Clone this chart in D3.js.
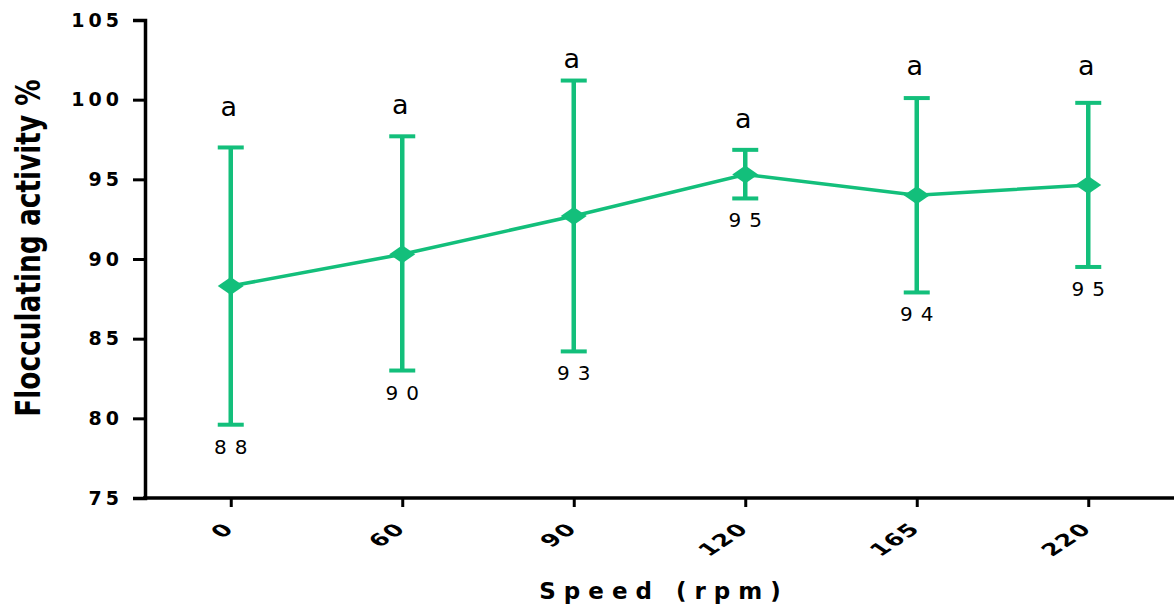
<!DOCTYPE html>
<html>
<head>
<meta charset="utf-8">
<script src="https://cdn.jsdelivr.net/npm/d3@7"></script>
<style>
  body { margin: 0; background: #fff; }
  svg text { font-family: "DejaVu Sans", Arial, sans-serif; }
</style>
</head>
<body>
<div id="chart"></div>
<script>
const speeds = ["0", "60", "90", "120", "165", "220"];
const meanValues = [88.3, 90.3, 92.7, 95.3, 94.0, 94.65];
const errUpper = [97.0, 97.7, 101.2, 96.85, 100.1, 99.8];
const errLower = [79.6, 83.0, 84.2, 93.8, 87.9, 89.5];
const meanLabels = ["88", "90", "93", "95", "94", "95"];
const groupLetters = ["a", "a", "a", "a", "a", "a"];
const letterLevel = [99.0, 99.1, 102.0, 98.2, 101.55, 101.55];
const yTicks = [75, 80, 85, 90, 95, 100, 105];

const width = 1174, height = 605;
const green = "#13bf7b";

const svg = d3.select("#chart").append("svg")
    .attr("width", width)
    .attr("height", height);

const x = d3.scalePoint().domain(speeds).range([145, 1174]).padding(0.5);
const y = d3.scaleLinear().domain([75, 105]).range([498, 20]);

// y axis
const yAxis = svg.append("g")
    .attr("transform", "translate(145,0)")
    .call(d3.axisLeft(y).tickValues(yTicks).tickSize(12).tickPadding(10));
yAxis.select(".domain").attr("stroke", "#000").attr("stroke-width", 3.5);
yAxis.selectAll(".tick line").attr("stroke", "#000").attr("stroke-width", 3);
yAxis.selectAll(".tick text")
    .attr("font-family", "DejaVu Sans")
    .attr("font-size", "19px")
    .attr("font-weight", "bold")
    .attr("letter-spacing", "4px")
    .attr("fill", "#000");

// x axis
const xAxis = svg.append("g")
    .attr("transform", "translate(0,498)")
    .call(d3.axisBottom(x).tickSize(9).tickSizeOuter(0));
xAxis.select(".domain").attr("stroke", "#000").attr("stroke-width", 3.5)
    .attr("d", "M143,0H1174");
xAxis.selectAll(".tick line").attr("stroke", "#000").attr("stroke-width", 3);
xAxis.selectAll(".tick text")
    .attr("font-family", "Liberation Sans")
    .attr("font-size", "17px")
    .attr("font-weight", "bold")
    .attr("letter-spacing", "1px")
    .attr("fill", "#000")
    .attr("text-anchor", "end")
    .attr("dy", null)
    .attr("y", 0)
    .attr("transform", "translate(4,32) scale(1.5,1) rotate(-45)");

// axis titles
svg.append("text")
    .attr("x", 664)
    .attr("y", 599)
    .attr("text-anchor", "middle")
    .attr("font-size", "23px")
    .attr("font-weight", "bold")
    .attr("letter-spacing", "8px")
    .text("Speed (rpm)");

svg.append("text")
    .attr("transform", "translate(40,248) rotate(-90) scale(0.8,1)")
    .attr("text-anchor", "middle")
    .attr("font-family", "Liberation Sans")
    .attr("font-size", "33px")
    .attr("font-weight", "bold")
    .text("Flocculating activity %");

const pts = speeds.map((s, i) => ({
    s, m: meanValues[i], hi: errUpper[i], lo: errLower[i],
    lab: meanLabels[i], g: groupLetters[i], gl: letterLevel[i]
}));

// error bars
const eb = svg.append("g").selectAll("g").data(pts).join("g");
eb.append("line")
    .attr("x1", d => x(d.s)).attr("x2", d => x(d.s))
    .attr("y1", d => y(d.hi)).attr("y2", d => y(d.lo))
    .attr("stroke", green).attr("stroke-width", 4.5);
eb.append("line")
    .attr("x1", d => x(d.s) - 13).attr("x2", d => x(d.s) + 13)
    .attr("y1", d => y(d.hi)).attr("y2", d => y(d.hi))
    .attr("stroke", green).attr("stroke-width", 4);
eb.append("line")
    .attr("x1", d => x(d.s) - 13).attr("x2", d => x(d.s) + 13)
    .attr("y1", d => y(d.lo)).attr("y2", d => y(d.lo))
    .attr("stroke", green).attr("stroke-width", 4);

// mean line
svg.append("path")
    .datum(pts)
    .attr("fill", "none")
    .attr("stroke", green)
    .attr("stroke-width", 3.5)
    .attr("d", d3.line().x(d => x(d.s)).y(d => y(d.m)));

// diamond markers
svg.append("g").selectAll("path").data(pts).join("path")
    .attr("transform", d => `translate(${x(d.s)},${y(d.m)})`)
    .attr("d", "M-13,0L0,-9L13,0L0,9Z")
    .attr("fill", green);

// value labels under error bars
svg.append("g").selectAll("text").data(pts).join("text")
    .attr("x", d => x(d.s) + 4)
    .attr("y", d => y(d.lo) + 29)
    .attr("text-anchor", "middle")
    .attr("font-size", "20px")
    .attr("letter-spacing", "8px")
    .text(d => d.lab);

// group letters
svg.append("g").selectAll("text").data(pts).join("text")
    .attr("x", d => x(d.s) - 2)
    .attr("y", d => y(d.gl))
    .attr("text-anchor", "middle")
    .attr("font-size", "27px")
    .text(d => d.g);
</script>
</body>
</html>
